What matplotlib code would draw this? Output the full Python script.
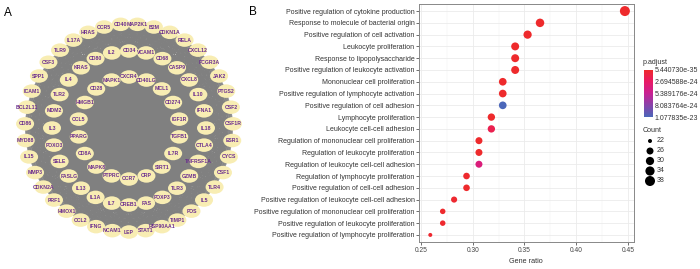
import matplotlib
matplotlib.use('Agg')
import matplotlib.pyplot as plt
from matplotlib.collections import LineCollection
from matplotlib.colors import LinearSegmentedColormap, Normalize
from matplotlib.patches import Ellipse
import numpy as np

plt.rcParams['font.family'] = ['Liberation Sans', 'DejaVu Sans']

# ---- panel A: PPI network, three concentric rings (clockwise from top)
outer_ring = ['MAP2K1', 'B2M', 'CDKN1A', 'RELA', 'CXCL12', 'FCGR3A', 'JAK2', 'PTGS2',
              'CSF2', 'CSF1R', 'ESR1', 'CYCS', 'CSF1', 'TLR4', 'IL5', 'FOS', 'TIMP1',
              'HSP90AA1', 'STAT1', 'LEP', 'NCAM1', 'IFNG', 'CCL2', 'HMOX1', 'PRF1',
              'CDKN2A', 'MMP3', 'IL15', 'MYD88', 'CD86', 'BCL2L11', 'ICAM1', 'SPP1',
              'CSF3', 'TLR9', 'IL17A', 'HRAS', 'CCR5', 'CD40']
middle_ring = ['CD34', 'VCAM1', 'CD68', 'CASP9', 'CXCL8', 'IL10', 'IFNA1', 'IL18',
               'CTLA4', 'TNFRSF1A', 'GZMB', 'TLR3', 'FOXP3', 'FAS', 'CREB1', 'IL7',
               'IL1A', 'IL13', 'FASLG', 'SELE', 'FOXO3', 'IL3', 'MDM2', 'TLR2', 'IL4',
               'KRAS', 'CD80', 'IL2']
inner_ring = ['CXCR4', 'CD40LG', 'MCL1', 'CD274', 'IGF1R', 'TGFB1', 'IL7R', 'SIRT1',
              'CRP', 'CCR7', 'PTPRC', 'MAPK8', 'CD8A', 'PPARG', 'CCL5', 'HMGB1', 'CD28',
              'MAPK1']

# ---- panel B: GO enrichment dot plot (top to bottom)
terms = ['Positive regulation of cytokine production',
         'Response to molecule of bacterial origin',
         'Positive regulation of cell activation',
         'Leukocyte proliferation',
         'Response to lipopolysaccharide',
         'Positive regulation of leukocyte activation',
         'Mononuclear cell proliferation',
         'Positive regulation of lymphocyte activation',
         'Positive regulation of cell adhesion',
         'Lymphocyte proliferation',
         'Leukocyte cell-cell adhesion',
         'Regulation of mononuclear cell proliferation',
         'Regulation of leukocyte proliferation',
         'Regulation of leukocyte cell-cell adhesion',
         'Regulation of lymphocyte proliferation',
         'Positive regulation of cell-cell adhesion',
         'Positive regulation of leukocyte cell-cell adhesion',
         'Positive regulation of mononuclear cell proliferation',
         'Positive regulation of leukocyte proliferation',
         'Positive regulation of lymphocyte proliferation']
gene_ratio = [0.447, 0.365, 0.353, 0.341, 0.341, 0.341, 0.329, 0.329, 0.329, 0.318,
              0.318, 0.306, 0.306, 0.306, 0.294, 0.294, 0.282, 0.271, 0.271, 0.259]
counts = [38, 31, 30, 29, 29, 29, 28, 28, 28, 27, 27, 26, 26, 26, 25, 25, 24, 23, 23, 22]
p_adjust = [5.440730e-35, 2.1e-33, 4.5e-32, 8.0e-31, 8.0e-31, 3.2e-30, 6.0e-29, 9.5e-28,
            1.077835e-23, 4.0e-27, 1.6e-24, 2.5e-27, 6.0e-27, 3.9e-24, 1.2e-25, 3.0e-26,
            2.4e-25, 7.0e-26, 1.1e-25, 2.0e-25]
cbar_ticks = [5.440730e-35, 2.694588e-24, 5.389176e-24, 8.083764e-24, 1.077835e-23]
cbar_labels = ['5.440730e-35', '2.694588e-24', '5.389176e-24', '8.083764e-24', '1.077835e-23']
legend_counts = [22, 26, 30, 34, 38]
xticks = [0.25, 0.30, 0.35, 0.40, 0.45]

DPI = 100
fig = plt.figure(figsize=(7, 2.69), dpi=DPI)

# ---------------- panel A
ax_a = fig.add_axes([0, 0, 260 / 700, 1])
ax_a.set_xlim(0, 260)
ax_a.set_ylim(269, 0)
ax_a.axis('off')

cx, cy = 129, 128
rings = [(outer_ring, 104, 0.5), (middle_ring, 77, 0.0), (inner_ring, 51, 0.0)]
names, xs, ys = [], [], []
for genes, r, off in rings:
    n = len(genes)
    ang = np.deg2rad((np.arange(n) + off) * 360.0 / n)
    names += genes
    xs += list(cx + r * np.sin(ang))
    ys += list(cy - r * np.cos(ang))
xs = np.array(xs)
ys = np.array(ys)

segs = []
for i in range(len(xs)):
    for j in range(i + 1, len(xs)):
        segs.append([(xs[i], ys[i]), (xs[j], ys[j])])
ax_a.add_collection(LineCollection(segs, colors='#808080', linewidths=0.4, zorder=1))

for name, x, y in zip(names, xs, ys):
    ax_a.add_patch(Ellipse((x, y), 18, 13.5, facecolor='#F8EDB3', edgecolor='none', zorder=2))
    ax_a.text(x, y, name, ha='center', va='center', fontsize=3.7, fontweight='bold',
              color='#6A2C8E', zorder=3)

fig.text(8 / 700, 1 - 13 / 269, 'A', fontsize=8.5, ha='center', va='center')
fig.text(253 / 700, 1 - 12 / 269, 'B', fontsize=8.5, ha='center', va='center')

# ---------------- panel B
cmap = LinearSegmentedColormap.from_list(
    'padj', ['#EE2A2C', '#E81A66', '#C82193', '#8843AA', '#4B67B9'])
norm = Normalize(vmin=cbar_ticks[0], vmax=cbar_ticks[-1])


def dot_size(c):
    # ggplot-like area scale, range 3..8
    size = 3 + 5 * np.sqrt((np.asarray(c, float) - 22) / 16)
    d_px = 0.422 * (2.845 * size + 0.945)
    return (d_px * 72 / DPI) ** 2


ax_b = fig.add_axes([418.7 / 700, 27 / 269, 215.3 / 700, 238 / 269])
rows = np.arange(1, len(terms) + 1)
ax_b.scatter(gene_ratio, rows, s=dot_size(counts), c=p_adjust, cmap=cmap, norm=norm,
             edgecolors='none', zorder=3)
ax_b.set_ylim(20.6, 0.4)
ax_b.set_xlim(0.2478, 0.4558)
ax_b.set_yticks(rows)
ax_b.set_yticklabels(terms)
ax_b.set_xticks(xticks)
ax_b.set_xticklabels(['%.2f' % t for t in xticks])
ax_b.set_xticks([0.275, 0.325, 0.375, 0.425], minor=True)
ax_b.grid(True, which='major', color='#EBEBEB', linewidth=0.6, zorder=0)
ax_b.grid(True, which='minor', axis='x', color='#F2F2F2', linewidth=0.35, zorder=0)
ax_b.set_axisbelow(True)
ax_b.tick_params(axis='y', which='major', labelsize=5.0, length=2, width=0.5,
                 color='#333333', labelcolor='#333333', pad=1)
ax_b.tick_params(axis='x', which='major', labelsize=4.8, length=2, width=0.5,
                 color='#333333', labelcolor='#444444', pad=1.5)
ax_b.tick_params(axis='both', which='minor', length=0)
for sp in ax_b.spines.values():
    sp.set_color('#888888')
    sp.set_linewidth(0.7)
ax_b.set_xlabel('Gene ratio', fontsize=5.2, color='#333333', labelpad=3)

# colour legend
cax = fig.add_axes([644 / 700, 1 - 117 / 269, 9 / 700, 47 / 269])
cb = fig.colorbar(plt.cm.ScalarMappable(norm=norm, cmap=cmap), cax=cax)
cax.invert_yaxis()
cb.set_ticks(cbar_ticks)
cb.set_ticklabels(cbar_labels)
cb.outline.set_visible(False)
cax.tick_params(labelsize=5.0, length=0, pad=1, labelcolor='#333333')
fig.text(643 / 700, 1 - 62 / 269, 'p.adjust', fontsize=5.1, color='#333333',
         ha='left', va='center')

# size legend
fig.text(643 / 700, 1 - 130 / 269, 'Count', fontsize=5.1, color='#333333',
         ha='left', va='center')
lax = fig.add_axes([640 / 700, 1 - 186 / 269, 30 / 700, 50 / 269])
lax.set_xlim(0, 30)
lax.set_ylim(50, 0)
lax.axis('off')
ky = 5 + 10 * np.arange(len(legend_counts))
lax.scatter(np.full(len(legend_counts), 10), ky, s=dot_size(legend_counts),
            color='black', edgecolors='none')
for c, y in zip(legend_counts, ky):
    lax.text(17, y, str(c), fontsize=5.0, color='#333333', va='center', ha='left')

plt.savefig('out.png', dpi=DPI)
plt.close()
